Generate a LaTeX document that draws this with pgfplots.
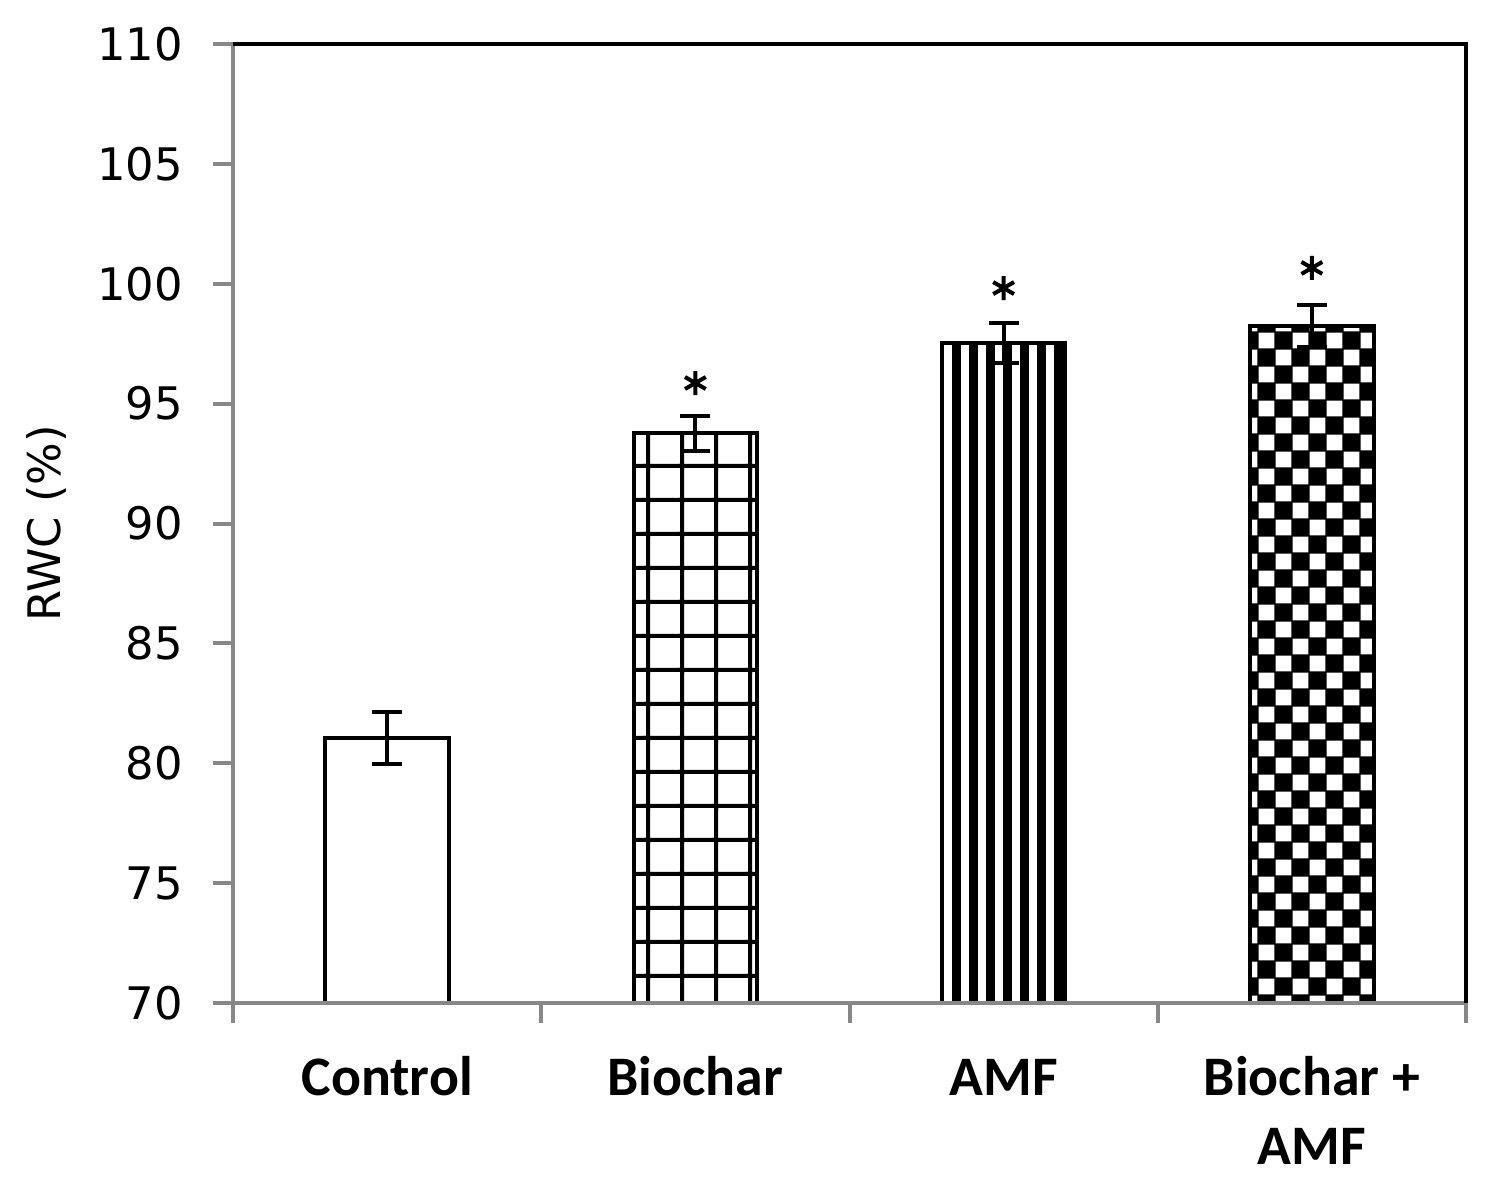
\documentclass[border=0pt]{standalone}
\usepackage{fontspec}
\setmainfont{DejaVu Sans}
\newfontfamily\carlito{Carlito}
\usepackage{pgfplots}
\pgfplotsset{compat=1.18}
\usetikzlibrary{patterns}
\definecolor{axgray}{RGB}{136,136,136}

\pgfdeclarepatternformonly{xgrid}{\pgfpoint{-1bp}{-1bp}}{\pgfpoint{18bp}{18bp}}{\pgfpoint{17bp}{17bp}}{%
  \pgfpathrectangle{\pgfpoint{-1bp}{0bp}}{\pgfpoint{19bp}{2bp}}%
  \pgfpathrectangle{\pgfpoint{0bp}{-1bp}}{\pgfpoint{2bp}{19bp}}%
  \pgfusepath{fill}}
\pgfdeclarepatternformonly{vstripes}{\pgfpoint{0bp}{-1bp}}{\pgfpoint{8.5bp}{35bp}}{\pgfpoint{8.5bp}{34bp}}{%
  \pgfpathrectangle{\pgfpoint{0bp}{-1bp}}{\pgfpoint{4.25bp}{36bp}}%
  \pgfusepath{fill}}
\pgfdeclarepatternformonly{checker}{\pgfpoint{-0.3bp}{-0.3bp}}{\pgfpoint{17.3bp}{17.3bp}}{\pgfpoint{17bp}{17bp}}{%
  \pgfpathrectangle{\pgfpoint{-0.3bp}{-0.3bp}}{\pgfpoint{9.1bp}{9.1bp}}%
  \pgfpathrectangle{\pgfpoint{8.2bp}{8.2bp}}{\pgfpoint{9.1bp}{9.1bp}}%
  \pgfusepath{fill}}

\pgfplotsset{
  myerr/.style={
    error bars/y dir=both, error bars/y explicit,
    error bars/error bar style={line width=2bp, black, solid},
    error bars/error mark options={rotate=90, line width=2bp, mark size=7.5bp, black},
  },
}

\begin{document}
\begin{tikzpicture}
\useasboundingbox (-116.5bp,-89.5bp) rectangle (633bp,501.5bp);
\begin{axis}[
  at={(0,0)}, anchor=south west,
  scale only axis, width=616.5bp, height=479.5bp,
  xmin=-0.5, xmax=3.5, ymin=70, ymax=110,
  axis x line*=bottom, axis y line*=left,
  axis line style={draw=axgray, line width=2bp},
  axis on top,
  ytick={70,75,...,110},
  xtick={-0.5,0.5,1.5,2.5,3.5},
  xticklabels={,,,,},
  tick align=outside,
  major tick length=10bp,
  tick style={draw=axgray, line width=2bp},
  yticklabel style={font=\fontsize{22.5}{26}\selectfont, anchor=east, inner sep=0pt, xshift=-15bp},
  /pgf/number format/assume math mode=true,
  extra x ticks={0,1,2,3},
  extra x tick labels={\strut Control, \strut Biochar, \strut AMF, {\strut Biochar +\\AMF}},
  extra x tick style={major tick length=0pt,
    xticklabel style={font={\fontsize{28}{35}\selectfont\carlito\bfseries}, align=center, anchor=north, inner sep=0pt, yshift=-21.5bp}},
  ylabel={RWC (\%)},
  ylabel style={at={(axis description cs:-0.151,0.5)}, anchor=center, font=\fontsize{22.5}{26}\selectfont},
  after end axis/.code={\draw[black, line width=2bp] (rel axis cs:0,1) -- (rel axis cs:1,1) -- (rel axis cs:1,0);},
  ybar, bar width=0.4,
]
\addplot[ybar, bar shift=0pt, draw=black, line width=2bp, fill=white, myerr]
  coordinates {(0,81.05) +- (0,1.07)};
\addplot[ybar, bar shift=0pt, draw=black, line width=2bp, pattern=xgrid, pattern color=black, myerr]
  coordinates {(1,93.77) +- (0,0.73)};
\addplot[ybar, bar shift=0pt, draw=black, line width=2bp, pattern=vstripes, pattern color=black, myerr]
  coordinates {(2,97.53) +- (0,0.83)};
\addplot[ybar, bar shift=0pt, draw=black, line width=2bp, pattern=checker, pattern color=black, myerr]
  coordinates {(3,98.24) +- (0,0.87)};
\addplot[only marks, mark=asterisk, mark size=6bp, mark options={line width=2bp, black}]
  coordinates {(1,95.86) (2,99.82) (3,100.66)};
\end{axis}
\end{tikzpicture}
\end{document}
